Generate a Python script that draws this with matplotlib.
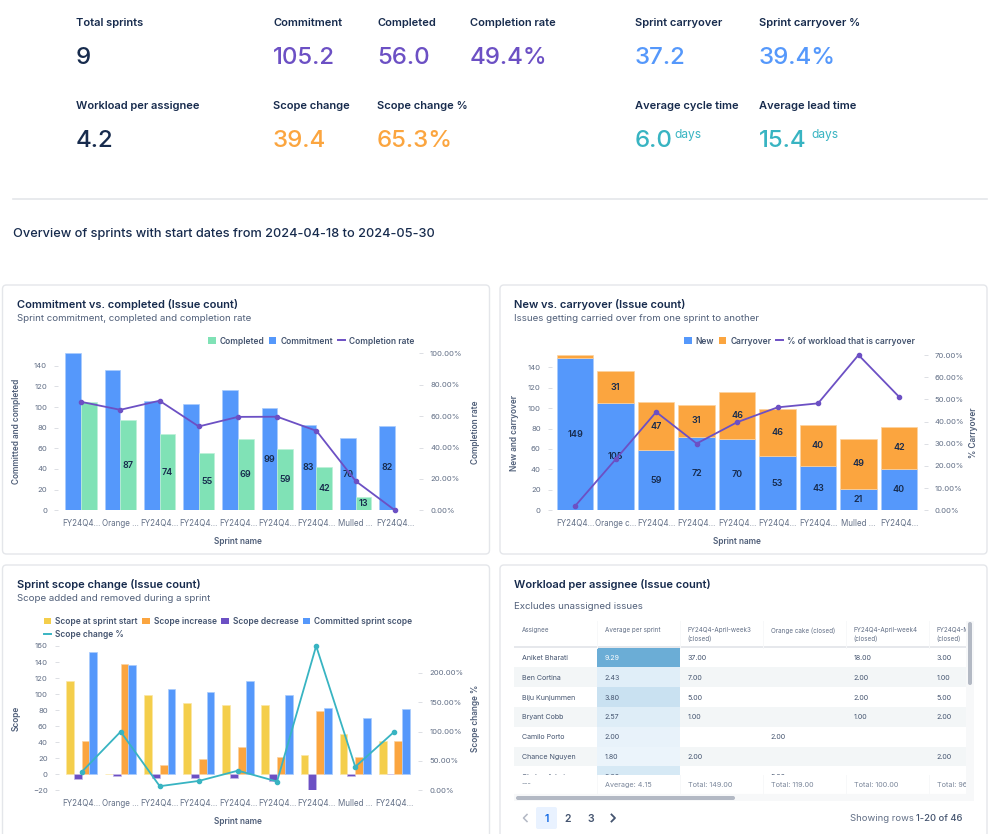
import numpy as np
import matplotlib
matplotlib.use("Agg")
import matplotlib.pyplot as plt
from matplotlib.colors import LinearSegmentedColormap, Normalize
from matplotlib.lines import Line2D
from matplotlib.patches import FancyBboxPatch, Patch, Rectangle

plt.rcParams['font.family'] = ['Inter', 'DejaVu Sans']

# ---- data ----
kpi_row1 = [("Total sprints", "9", "navy"), ("Commitment", "105.2", "purple"),
            ("Completed", "56.0", "purple"), ("Completion rate", "49.4%", "purple"),
            ("Sprint carryover", "37.2", "blue"), ("Sprint carryover %", "39.4%", "blue")]
kpi_row2 = [("Workload per assignee", "4.2", "navy"), ("Scope change", "39.4", "orange"),
            ("Scope change %", "65.3%", "orange"),
            ("Average cycle time", "6.0", "teal"), ("Average lead time", "15.4", "teal")]

labels1 = ["FY24Q4...", "Orange ...", "FY24Q4...", "FY24Q4...", "FY24Q4...",
           "FY24Q4...", "FY24Q4...", "Mulled ...", "FY24Q4..."]
labels2 = ["FY24Q4...", "Orange c...", "FY24Q4...", "FY24Q4...", "FY24Q4...",
           "FY24Q4...", "FY24Q4...", "Mulled ...", "FY24Q4..."]

commitment = [152, 136, 106, 103, 116, 99, 83, 70, 82]
completed = [105, 87, 74, 55, 69, 59, 42, 13, 0]
completion_rate = [69.1, 64.0, 69.8, 53.4, 59.5, 59.6, 50.6, 18.6, 0.0]
commitment_shown = [5, 6, 7, 8]
completed_shown = [1, 2, 3, 4, 5, 6, 7]

new_issues = [149, 105, 59, 72, 70, 53, 43, 21, 40]
carryover = [3, 31, 47, 31, 46, 46, 40, 49, 42]
carryover_pct = [2.0, 23.0, 44.3, 30.1, 39.7, 46.4, 48.2, 70.0, 51.2]
carryover_shown = [1, 2, 3, 4, 5, 6, 7, 8]

scope_start = [116, 0, 99, 89, 87, 86, 24, 50, 41]
scope_decrease = [-6, -2, -5, -5, -5, -9, -20, -2, 0]
scope_increase = [42, 138, 12, 19, 34, 22, 79, 21, 41]
scope_pct = [31, 100, 7, 16, 33.5, 15, 246, 40, 100]

table_cols = ["Assignee", "Average per sprint", "FY24Q4-April-week3\n(closed)", "Orange cake (closed)",
              "FY24Q4-April-week4\n(closed)", "FY24Q4-May-week1\n(closed)"]
assignees = ["Aniket Bharati", "Ben Cortina", "Biju Kunjummen", "Bryant Cobb",
             "Camilo Porto", "Chance Nguyen", "Chakra Adari"]
avg_per_sprint = [9.29, 2.43, 3.80, 2.57, 2.00, 1.80, 3.00]
week3 = ["37.00", "7.00", "5.00", "1.00", "", "2.00", ""]
orange_cake = ["", "", "", "", "2.00", "", "5.00"]
week4 = ["18.00", "2.00", "2.00", "1.00", "", "", ""]
may1 = ["3.00", "1.00", "5.00", "2.00", "", "2.00", ""]
table_footer = ["---", "Average: 4.15", "Total: 149.00", "Total: 119.00", "Total: 100.00", "Total: 96.00"]

# ---- style ----
W, H = 999, 834
NAVY = "#172B4D"
GREY = "#505F79"
TICK = "#626F86"
BLUE = "#5598FB"
GREEN = "#80E2B6"
PURPLE = "#6C50C4"
ORANGE = "#FBA53F"
YELLOW = "#F4CE4B"
TEAL = "#38B4C2"
colors = {"navy": NAVY, "purple": PURPLE, "blue": BLUE, "orange": ORANGE, "teal": TEAL}


def pt(px):
    return px * 0.72


fig = plt.figure(figsize=(W / 100, H / 100), dpi=100, facecolor="white")
bg = fig.add_axes([0, 0, 1, 1])
bg.set_xlim(0, W)
bg.set_ylim(H, 0)
bg.axis("off")


def px_axes(x0, y0, x1, y1):
    return fig.add_axes([x0 / W, 1 - y1 / H, (x1 - x0) / W, (y1 - y0) / H])


def card(x0, y0, x1, y1, title, sub, sub_y):
    bg.add_patch(FancyBboxPatch((x0, y0), x1 - x0, y1 - y0, boxstyle="round,pad=0,rounding_size=4",
                                fc="white", ec="#E4E6EA", lw=1))
    bg.text(x0 + 14.5, y0 + 20, title, fontsize=pt(11.1), fontweight=600, color=NAVY, va="center")
    bg.text(x0 + 14.5, sub_y + 0.5, sub, fontsize=pt(9.7), color=GREY, va="center")


def style_axes(ax, ax2, names, ylabel, ylabel_x, ylabel2, ylabel2_x, name_y):
    x = np.arange(len(names))
    ax.set_xlim(-0.5, len(names) - 0.5)
    ax.set_xticks(x, names)
    for a in (ax, ax2):
        a.patch.set_alpha(0)
        for s in a.spines.values():
            s.set_visible(False)
        a.spines["left"].set_position(("outward", 2.4))
        a.spines["right"].set_position(("outward", 3.2))
        a.tick_params(axis="y", length=2.9, width=0.7, color="#DCDFE4", labelsize=pt(7.7),
                      labelcolor=TICK, pad=5)
        a.tick_params(axis="x", length=0, labelsize=pt(8.0), labelcolor=TICK, pad=6)
    ax.set_ylabel(ylabel, fontsize=pt(8.3), fontweight=600, color=GREY)
    ax2.set_ylabel(ylabel2, fontsize=pt(8.3), fontweight=600, color=GREY)
    ax.set_xlabel("Sprint name", fontsize=pt(8.3), fontweight=600, color=GREY)
    pos = ax.get_position()
    ax.xaxis.set_label_coords((pos.x0 + pos.x1) / 2 * W, name_y, transform=bg.transData)
    mid_y = (1 - (pos.y0 + pos.y1) / 2) * H
    ax.yaxis.set_label_coords(ylabel_x, mid_y, transform=bg.transData)
    ax2.yaxis.set_label_coords(ylabel2_x, mid_y, transform=bg.transData)
    return x


def legend(ax, handles, anchor, loc, ncols):
    leg = ax.legend(handles=handles, loc=loc, bbox_to_anchor=anchor, bbox_transform=bg.transData,
                    ncols=ncols, frameon=False, fontsize=pt(8.4), handlelength=0.85, handleheight=0.85,
                    handletextpad=0.5, columnspacing=0.55, labelspacing=0.45, borderpad=0, borderaxespad=0)
    for t in leg.get_texts():
        t.set_color("#44546F")
        t.set_fontweight(600)


def swatch(color, label):
    return Patch(fc=color, ec="none", label=label)


def line_key(color, label):
    return Line2D([], [], color=color, lw=1.4, label=label)


def bar_text(ax, xs, ys):
    for xv, yv, lab in zip(xs, ys[0], ys[1]):
        ax.text(xv, yv, lab, ha="center", va="center", fontsize=pt(9), fontweight=600, color=NAVY)


# ---- kpis ----
row1_x = [76, 273, 377, 470, 635, 759]
row2_x = [76, 273, 377, 635, 759]
for row, xs, ly, vy in ((kpi_row1, row1_x, 23, 58), (kpi_row2, row2_x, 106, 141)):
    for (label, value, col), xv in zip(row, xs):
        bg.text(xv, ly, label, fontsize=pt(11.1), fontweight=600, color=NAVY, va="center")
        bg.text(xv, vy, value, fontsize=pt(24), fontweight=500, color=colors[col], va="center")
        if label.startswith("Average"):
            bg.text(xv + (39 if value == "6.0" else 52), vy - 6, "days", fontsize=pt(12), color=TEAL, va="center")

bg.plot([13, 987], [198.5, 198.5], color="#E4E6EA", lw=1.2)
bg.text(13, 234, "Overview of sprints with start dates from 2024-04-18 to 2024-05-30",
        fontsize=pt(12.75), fontweight=500, color=NAVY, va="center")

card(2.5, 285, 489.5, 554, "Commitment vs. completed (Issue count)", "Sprint commitment, completed and completion rate", 318)
card(500, 285, 987, 554, "New vs. carryover (Issue count)", "Issues getting carried over from one sprint to another", 318)
card(2.5, 565, 489.5, 860, "Sprint scope change (Issue count)", "Scope added and removed during a sprint", 598)
card(500, 565, 987, 860, "Workload per assignee (Issue count)", "Excludes unassigned issues", 606)

# ---- commitment vs completed ----
ax = px_axes(61.4, 353.3, 414.6, 510.3)
ax2 = ax.twinx()
x = style_axes(ax, ax2, labels1, "Committed and completed", 21, "Completion rate", 471, 537)
ax.bar(x - 0.2, commitment, 0.4, color=BLUE, ec="#A9CBFC", lw=0.5)
ax.bar(x + 0.2, completed, 0.4, color=GREEN, ec="#BDF0D8", lw=0.5)
ax.set_ylim(0, 152)
ax.set_yticks(range(0, 141, 20))
ax2.plot(x, completion_rate, color=PURPLE, lw=1.3, marker="o", ms=3, clip_on=False)
ax2.set_ylim(0, 100)
ax2.set_yticks(range(0, 101, 20), [f"{v}.00%" for v in range(0, 101, 20)])
bar_text(ax, [i - 0.2 for i in commitment_shown],
         ([commitment[i] / 2 for i in commitment_shown], [commitment[i] for i in commitment_shown]))
bar_text(ax, [i + 0.2 for i in completed_shown],
         ([completed[i] / 2 for i in completed_shown], [completed[i] for i in completed_shown]))
legend(ax, [swatch(GREEN, "Completed"), swatch(BLUE, "Commitment"), line_key(PURPLE, "Completion rate")],
       (414.5, 341), "center right", 3)

# ---- new vs carryover ----
ax = px_axes(555, 355, 919.2, 510.3)
ax2 = ax.twinx()
x = style_axes(ax, ax2, labels2, "New and carryover", 519, "% Carryover", 969, 537)
ax.bar(x, new_issues, 0.9, color=BLUE, ec="#A9CBFC", lw=0.5)
ax.bar(x, carryover, 0.9, bottom=new_issues, color=ORANGE, ec="#FCD3A0", lw=0.5)
ax.set_ylim(0, 152)
ax.set_yticks(range(0, 141, 20))
ax2.plot(x, carryover_pct, color=PURPLE, lw=1.3, marker="o", ms=3, clip_on=False)
ax2.set_ylim(0, 70)
ax2.set_yticks(range(0, 71, 10), [f"{v}.00%" for v in range(0, 71, 10)])
bar_text(ax, x, ([v / 2 for v in new_issues], new_issues))
bar_text(ax, carryover_shown, ([new_issues[i] + carryover[i] / 2 for i in carryover_shown],
                               [carryover[i] for i in carryover_shown]))
legend(ax, [swatch(BLUE, "New"), swatch(ORANGE, "Carryover"), line_key(PURPLE, "% of workload that is carryover")],
       (915, 341), "center right", 3)

# ---- scope change ----
ax = px_axes(62, 646, 413.9, 790.3)
ax2 = ax.twinx()
x = style_axes(ax, ax2, labels1, "Scope", 21, "Scope change %", 471, 817)
ax.bar(x - 0.3, scope_start, 0.2, color=YELLOW, ec="#FBE7A6", lw=0.5)
ax.bar(x - 0.1, scope_decrease, 0.2, color=PURPLE, ec="#C4B8E8", lw=0.5)
ax.bar(x + 0.1, scope_increase, 0.2, color=ORANGE, ec="#FCD3A0", lw=0.5)
ax.bar(x + 0.3, commitment, 0.2, color=BLUE, ec="#A9CBFC", lw=0.5)
ax.set_ylim(-20, 160)
ax.set_yticks(range(-20, 161, 20), [str(v).replace("-", "\u2212") for v in range(-20, 161, 20)])
ax2.plot(x, scope_pct, color=TEAL, lw=1.3, marker="o", ms=3, clip_on=False)
ax2.set_ylim(0, 246)
ax2.set_yticks(range(0, 201, 50), [f"{v}.00%" for v in range(0, 201, 50)])
legend(ax, [swatch(YELLOW, "Scope at sprint start"), line_key(TEAL, "Scope change %"),
            swatch(ORANGE, "Scope increase"), swatch(PURPLE, "Scope decrease"),
            swatch(BLUE, "Committed sprint scope")], (44, 617), "upper left", 4)

# ---- table ----
tx0, ty0, tx1, ty1 = 513.7, 621, 966, 794
tbl = px_axes(tx0, ty0, tx1, ty1)
tbl.set_xlim(tx0, tx1)
tbl.set_ylim(ty1, ty0)
tbl.axis("off")
col_w = 83
row_h = 19.83
head_bottom = 647.5
foot_top = 775
cmap = LinearSegmentedColormap.from_list("heat", ["#EBF4FB", "#6BADD6"])
norm = Normalize(1.8, 9.29)
columns = [assignees, avg_per_sprint, week3, orange_cake, week4, may1]

for r in range(len(assignees)):
    yr = head_bottom + r * row_h
    if r % 2 == 1:
        tbl.add_patch(Rectangle((tx0, yr), tx1 - tx0, row_h, fc="#F3F6F7", ec="none"))
    tbl.add_patch(Rectangle((tx0 + col_w, yr), col_w, row_h, fc=cmap(norm(avg_per_sprint[r])), ec="none", zorder=2))
    for c, col in enumerate(columns):
        val = col[r]
        txt = f"{val:.2f}" if c == 1 else val
        tcol = "white" if c == 1 and r == 0 else "#44546F"
        tbl.text(tx0 + c * col_w + 8, yr + row_h / 2 + 0.5, txt, fontsize=pt(7.1), color=tcol,
                 va="center", clip_on=True, zorder=3)

tbl.add_patch(Rectangle((tx0, ty0), tx1 - tx0, head_bottom - ty0, fc="white", ec="none", zorder=4))
tbl.add_patch(Rectangle((tx0, foot_top), tx1 - tx0, ty1 - foot_top, fc="white", ec="none", zorder=4))
tbl.plot([tx0, tx1], [head_bottom - 0.5, head_bottom - 0.5], color="#E4E6EA", lw=1.3, zorder=5)
tbl.plot([tx0, tx1], [ty1 - 0.5, ty1 - 0.5], color="#EEF0F2", lw=0.8, zorder=5)
for c in range(1, 6):
    xc = tx0 + c * col_w
    tbl.plot([xc, xc], [ty0, head_bottom], color="#F7F8F9", lw=0.7, zorder=5)
    tbl.plot([xc, xc], [foot_top, ty1], color="#F7F8F9", lw=0.7, zorder=5)
for c, name in enumerate(table_cols):
    tbl.text(tx0 + c * col_w + 8, 627, name, fontsize=pt(6.3), color=TICK, va="top",
             linespacing=1.4, clip_on=True, zorder=6)
    tbl.text(tx0 + c * col_w + 8, 784.5, table_footer[c], fontsize=pt(7.2), color="#7A869A",
             va="center", clip_on=True, zorder=6)

# scrollbars and pager
bg.add_patch(Rectangle((966, 621), 8, 180, fc="#F7F8F9", ec="none"))
bg.add_patch(Rectangle((tx0, 794), 460, 7, fc="#F7F8F9", ec="none"))
bg.add_patch(FancyBboxPatch((968, 622), 4, 63, boxstyle="round,pad=0,rounding_size=2", fc="#B3B9C4", ec="none"))
bg.add_patch(FancyBboxPatch((516, 796), 219, 4, boxstyle="round,pad=0,rounding_size=2", fc="#B3B9C4", ec="none"))
bg.add_patch(FancyBboxPatch((536, 807), 21, 22, boxstyle="round,pad=0,rounding_size=2", fc="#E9F2FF", ec="none"))
bg.plot([527, 523.5, 527], [814.5, 818, 821.5], color="#B3B9C4", lw=1.1)
bg.plot([611.5, 615, 611.5], [814.5, 818, 821.5], color="#44546F", lw=1.3)
for pg, xp, cp in ((1, 546.5, "#0C66E4"), (2, 568, "#44546F"), (3, 591, "#44546F")):
    bg.text(xp, 818.5, str(pg), fontsize=pt(10.5), fontweight=600, color=cp, ha="center", va="center")
bg.text(913.5, 818.5, "Showing rows", fontsize=pt(9.5), color=TICK, ha="right", va="center")
bg.text(962, 818.5, "1-20 of 46", fontsize=pt(9.4), fontweight=500, color="#44546F", ha="right", va="center")

fig.savefig("out.png", dpi=100)
